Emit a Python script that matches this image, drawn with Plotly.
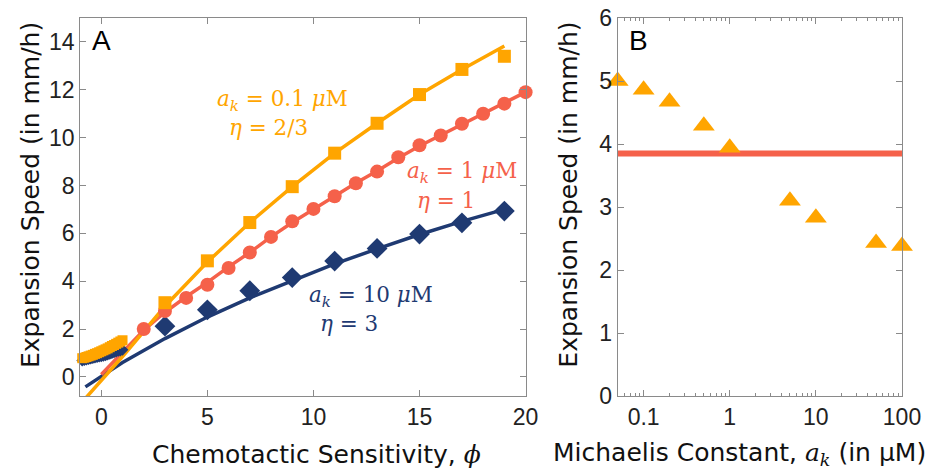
import plotly.graph_objects as go

# ---------------- Panel A data ----------------
phi_orange = [3, 5, 7, 9, 11, 13, 15, 17, 19]
v_orange = [3.1, 4.85, 6.45, 7.95, 9.35, 10.6, 11.8, 12.85, 13.4]
phi_red = [2, 3, 4, 5, 6, 7, 8, 9, 10, 11, 12, 13, 14, 15, 16, 17, 18, 19, 20]
v_red = [2.0, 2.75, 3.3, 3.85, 4.55, 5.2, 5.85, 6.5, 7.02, 7.55, 8.09, 8.58, 9.18, 9.68, 10.09, 10.58, 11.0, 11.42, 11.9]
phi_blue = [3, 5, 7, 9, 11, 13, 15, 17, 19]
v_blue = [2.12, 2.8, 3.6, 4.15, 4.84, 5.37, 5.97, 6.44, 6.93]

# small markers at low sensitivity
phi_small = [-0.9, -0.8, -0.7, -0.6, -0.5, -0.4, -0.3, -0.2, -0.1, 0.0,
             0.1, 0.2, 0.3, 0.4, 0.5, 0.6, 0.7, 0.8, 0.9, 1.0]
v_small_orange = [0.78, 0.8, 0.83, 0.86, 0.89, 0.92, 0.96, 0.99, 1.03, 1.07,
                  1.11, 1.15, 1.19, 1.24, 1.29, 1.33, 1.38, 1.43, 1.48, 1.53]
v_small_blue = [0.68, 0.7, 0.72, 0.74, 0.76, 0.78, 0.8, 0.82, 0.84, 0.86,
                0.88, 0.9, 0.93, 0.96, 0.99, 1.02, 1.05, 1.08, 1.1, 1.13]

# model curves
phi_line_orange = [-0.7, 0, 1, 3, 5, 7, 9, 11, 13, 15, 17, 19]
fit_orange = [-0.85, -0.15, 0.85, 2.95, 4.8, 6.45, 7.95, 9.35, 10.6, 11.8, 12.85, 13.83]
phi_line_red = [0, 1, 2, 3, 4, 5, 6, 7, 8, 9, 10, 11, 12, 13, 14, 15, 16, 17, 18, 19, 20]
fit_red = [0.1, 1.05, 1.95, 2.7, 3.35, 3.95, 4.6, 5.2, 5.85, 6.45, 7.0, 7.55, 8.1, 8.6, 9.15, 9.65, 10.1, 10.55, 11.0, 11.45, 11.9]
phi_line_blue = [-0.75, 0, 1, 3, 5, 7, 9, 11, 13, 15, 17, 19]
fit_blue = [-0.42, 0.02, 0.6, 1.6, 2.5, 3.3, 4.02, 4.72, 5.35, 5.95, 6.5, 7.0]

# ---------------- Panel B data ----------------
ak = [0.05, 0.1, 0.2, 0.5, 1, 5, 10, 50, 100]
v_ak = [5.0, 4.86, 4.67, 4.29, 3.94, 3.1, 2.83, 2.43, 2.38]
ak_line = [0.05, 100]
v_const = [3.85, 3.85]

x_ticks_A = [0, 5, 10, 15, 20]
y_ticks_A = [0, 2, 4, 6, 8, 10, 12, 14]
x_ticks_B = [0.1, 1, 10, 100]
x_ticklabels_B = ["0.1", "1", "10", "100"]
x_minor_B = [0.06, 0.07, 0.08, 0.09, 0.2, 0.3, 0.4, 0.5, 0.6, 0.7, 0.8, 0.9,
             2, 3, 4, 5, 6, 7, 8, 9, 20, 30, 40, 50, 60, 70, 80, 90]
y_ticks_B = [0, 1, 2, 3, 4, 5, 6]

ORANGE = "#FFA500"
RED = "#F5614A"
NAVY = "#1F3A72"

fig = go.Figure()

# Panel A lines
fig.add_trace(go.Scatter(x=phi_line_blue, y=fit_blue, mode="lines",
                         line=dict(color=NAVY, width=3.5), xaxis="x", yaxis="y"))
fig.add_trace(go.Scatter(x=phi_line_red, y=fit_red, mode="lines",
                         line=dict(color=RED, width=3.5), xaxis="x", yaxis="y"))
fig.add_trace(go.Scatter(x=phi_line_orange, y=fit_orange, mode="lines",
                         line=dict(color=ORANGE, width=3.5), xaxis="x", yaxis="y"))
# small markers
fig.add_trace(go.Scatter(x=phi_small, y=v_small_blue, mode="markers", cliponaxis=False,
                         marker=dict(symbol="diamond", size=9, color=NAVY), xaxis="x", yaxis="y"))
fig.add_trace(go.Scatter(x=phi_small, y=v_small_orange, mode="markers", cliponaxis=False,
                         marker=dict(symbol="square", size=10, color=ORANGE), xaxis="x", yaxis="y"))
# big markers
fig.add_trace(go.Scatter(x=phi_blue, y=v_blue, mode="markers", cliponaxis=False,
                         marker=dict(symbol="diamond", size=16, color=NAVY), xaxis="x", yaxis="y"))
fig.add_trace(go.Scatter(x=phi_red, y=v_red, mode="markers", cliponaxis=False,
                         marker=dict(symbol="circle", size=14, color=RED), xaxis="x", yaxis="y"))
fig.add_trace(go.Scatter(x=phi_orange, y=v_orange, mode="markers", cliponaxis=False,
                         marker=dict(symbol="square", size=13, color=ORANGE), xaxis="x", yaxis="y"))

# Panel B
fig.add_trace(go.Scatter(x=ak_line, y=v_const, mode="lines",
                         line=dict(color=RED, width=6), xaxis="x2", yaxis="y2"))
fig.add_trace(go.Scatter(x=ak, y=v_ak, mode="markers", cliponaxis=False,
                         marker=dict(symbol="triangle-up", size=19, color=ORANGE), xaxis="x2", yaxis="y2"))

AXC = "#8a8a8a"
TICKF = dict(family="Liberation Sans, Arial", size=23, color="#222")
common = dict(showgrid=False, zeroline=False, showline=True, linecolor=AXC, linewidth=1,
              mirror="ticks", ticks="inside", ticklen=6, tickcolor=AXC, tickfont=TICKF,
              ticklabeloverflow="allow")

W, H = 926, 470
EW = 906.0  # effective horizontal pixel span observed in the rendered page
PH = 378.0  # plot-area height in pixels (top 18, bottom 396)


def px(x):
    return x / EW


def py(y):
    return (396 - y) / PH


fig.update_layout(
    width=W, height=H, showlegend=False, autosize=False,
    margin=dict(l=0, r=0, t=18, b=74),
    plot_bgcolor="white", paper_bgcolor="white",
    xaxis=dict(domain=[px(80), px(525)], range=[-1, 20], tickvals=x_ticks_A, anchor="y", **common),
    yaxis=dict(domain=[0, 1], range=[-0.8, 15.0], tickvals=y_ticks_A, anchor="x", **common),
    xaxis2=dict(domain=[px(617), px(901)], type="log", range=[-1.30103, 2], tickvals=x_ticks_B,
                ticktext=x_ticklabels_B, anchor="y2",
                minor=dict(ticks="inside", ticklen=3, tickcolor=AXC, showgrid=False, tickvals=x_minor_B),
                **common),
    yaxis2=dict(domain=[0, 1], range=[0, 6], tickvals=y_ticks_B, anchor="x2", **common),
)

TITLEF = dict(family="DejaVu Sans", size=25, color="#111")
MATHF = "DejaVu Serif"
MS = 21.5


def note(text, x, y, color):
    return dict(text=text, x=px(x), y=py(y), xref="paper", yref="paper", showarrow=False,
                font=dict(family=MATHF, size=MS, color=color), xanchor="center", yanchor="middle")


anns = [
    dict(text="Expansion Speed (in mm/h)", x=px(30), y=py(195), xref="paper", yref="paper",
         textangle=-90, showarrow=False, font=TITLEF, xanchor="center", yanchor="middle"),
    dict(text="Expansion Speed (in mm/h)", x=px(567), y=py(195), xref="paper", yref="paper",
         textangle=-90, showarrow=False, font=TITLEF, xanchor="center", yanchor="middle"),
    dict(text="Chemotactic Sensitivity, <i><span style='font-family:DejaVu Serif'>ϕ</span></i>",
         x=px(316), y=py(454), xref="paper", yref="paper",
         showarrow=False, font=TITLEF, xanchor="center", yanchor="middle"),
    dict(text="Michaelis Constant, <i><span style='font-family:DejaVu Serif'>a<sub>k</sub></span></i> (in μM)",
         x=px(739), y=py(454),
         xref="paper", yref="paper", showarrow=False, font=TITLEF, xanchor="center", yanchor="middle"),
    dict(text="A", x=px(90), y=py(41), xref="paper", yref="paper", showarrow=False,
         font=dict(family="Liberation Sans, Arial", size=28, color="black"), xanchor="left", yanchor="middle"),
    dict(text="B", x=px(626), y=py(41), xref="paper", yref="paper", showarrow=False,
         font=dict(family="Liberation Sans, Arial", size=28, color="black"), xanchor="left", yanchor="middle"),
    note("<i>a<sub>k</sub></i> = 0.1 <i>μ</i>M", 282, 101, ORANGE),
    note("<i>η</i> = 2/3", 268, 127, ORANGE),
    note("<i>a<sub>k</sub></i> = 1 <i>μ</i>M", 461, 173, RED),
    note("<i>η</i> = 1", 446, 200, RED),
    note("<i>a<sub>k</sub></i> = 10 <i>μ</i>M", 371, 296, NAVY),
    note("<i>η</i> = 3", 349, 323, NAVY),
]
fig.update_layout(annotations=anns)

fig.write_html(
    "out.html",
    config={"displayModeBar": False, "responsive": False},
    post_script=("document.documentElement.style.overflow='hidden';"
                 "document.body.style.margin='0';document.body.style.padding='0';"
                 "document.body.style.overflow='hidden';"),
)
